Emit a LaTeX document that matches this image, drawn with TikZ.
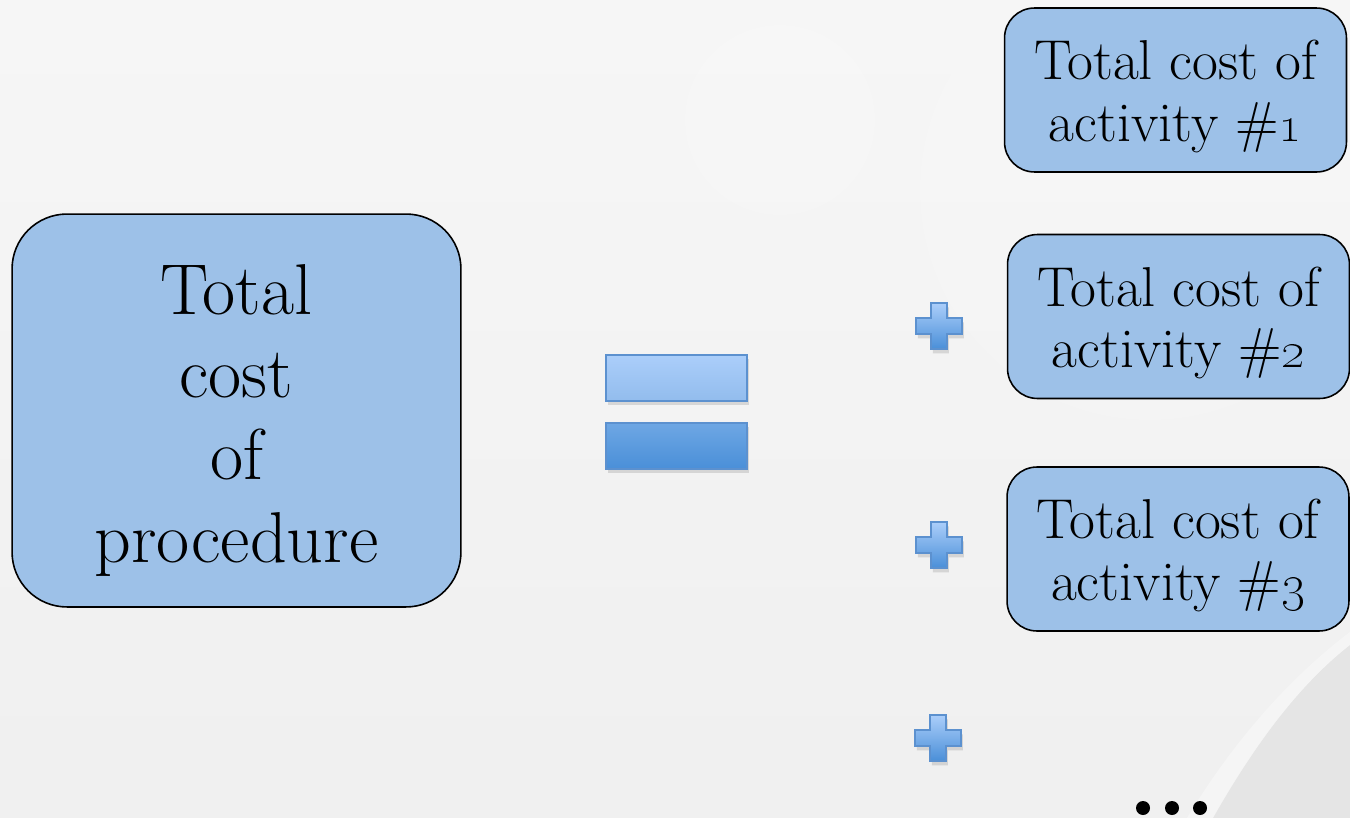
\documentclass[tikz,border=0pt]{standalone}
\usepackage{tikz}
\usetikzlibrary{positioning,shapes,shadows}
\definecolor{boxblue}{RGB}{157,193,232}
\definecolor{barline}{RGB}{92,145,207}
\definecolor{barlight}{RGB}{171,206,250}
\definecolor{barmid}{RGB}{146,188,237}
\definecolor{bardeep}{RGB}{110,167,228}
\definecolor{bardark}{RGB}{74,143,216}
\tikzset{
    % 左边的大框
    bigbox/.style={
        draw=black,
        line width=0.9pt,
        fill=boxblue,
        rounded corners=1.1cm,
        minimum width=8.98cm,
        minimum height=7.86cm,
        align=center,
        font=\fontsize{41}{47}\selectfont
    },
    % 右边的小框
    costbox/.style={
        draw=black,
        line width=0.9pt,
        fill=boxblue,
        rounded corners=0.6cm,
        minimum width=6.84cm,
        minimum height=3.28cm,
        inner sep=0pt,
        align=center,
        font=\fontsize{32}{35}\selectfont
    },
    barshade/.style={
        draw=barline,
        line width=0.8pt,
        drop shadow={opacity=0.25, shadow xshift=1pt, shadow yshift=-2.5pt}
    },
    pics/plussign/.style={
        code={
            \draw[barshade, top color=barlight, bottom color=bardark]
            (-8,-23) -- (8,-23) -- (8,-8) -- (23,-8) -- (23,8) -- (8,8)
            -- (8,23) -- (-8,23) -- (-8,8) -- (-23,8) -- (-23,-8) -- (-8,-8) -- cycle;
        }
    }
}

\begin{document}
\begin{tikzpicture}[x=0.02cm,y=-0.02cm]
% ===================== 背景 =====================
\useasboundingbox (0,0) rectangle (1350,818);
\shade[top color=gray!7, bottom color=gray!12] (0,0) rectangle (1350,818);
\fill[white,opacity=0.12] (780,120) circle (95);
\fill[white,opacity=0.1] (1150,190) circle (230);
% 右下角的弧
\fill[gray!20] (1213,818) .. controls (1260,735) and (1305,680) .. (1350,645) -- (1350,818) -- cycle;
\fill[white,opacity=0.35] (1187,818) .. controls (1240,730) and (1300,670) .. (1350,632)
    -- (1350,645) .. controls (1305,680) and (1260,735) .. (1213,818) -- cycle;

% ===================== 左框 =====================
\node[bigbox] (proc) at (236.5,410.5) {\rule{0pt}{40pt}Total\\cost\\of\\procedure};

% ===================== 等号 =====================
\draw[barshade, top color=barlight, bottom color=barmid] (606,355) rectangle (747,401);
\draw[barshade, top color=bardeep, bottom color=bardark] (606,423) rectangle (747,469);

% ===================== 右框 =====================
\node[costbox] (act1) at (1175.5,90) {\rule{0pt}{30pt}Total cost of\\activity \#\oldstylenums{1}};
\node[costbox] (act2) at (1178.5,316.5) {\rule{0pt}{30pt}Total cost of\\activity \#\oldstylenums{2}};
\node[costbox] (act3) at (1178,549) {\rule{0pt}{30pt}Total cost of\\activity \#\oldstylenums{3}};

% 加号
\pic at (939,326) {plussign};
\pic at (939,545) {plussign};
\pic at (938,738) {plussign};

% 省略号
\foreach \dx in {1143,1172,1200}
    \fill[black] (\dx,808) circle (7);
\end{tikzpicture}
\end{document}
